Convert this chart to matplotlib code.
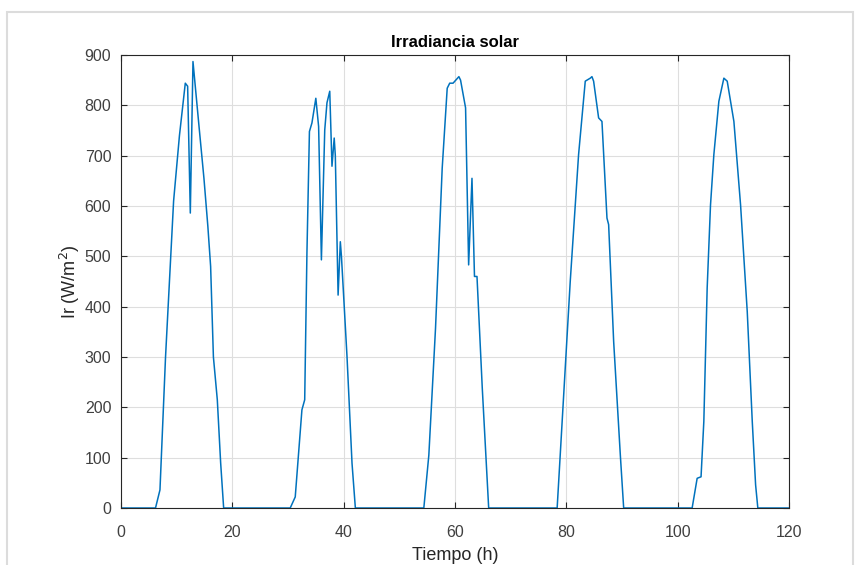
import matplotlib
matplotlib.use("Agg")
import matplotlib.pyplot as plt
from matplotlib.patches import Rectangle

plt.rcParams['font.family'] = ['Liberation Sans', 'DejaVu Sans']

# Solar irradiance over five days (time in hours, irradiance in W/m^2)
day1_t = [0, 6.2, 7.0, 8.0, 9.45, 10.5, 11.55, 11.97, 12.45, 12.93, 14.0, 14.9, 15.6, 16.1, 16.6, 17.3, 17.9, 18.44]
day1_ir = [0, 0, 36, 300, 610, 740, 844, 838, 586, 887, 760, 655, 560, 480, 300, 215, 90, 0]

day2_t = [18.44, 30.4, 31.3, 32.5, 33.0, 33.4, 33.85, 34.3, 35.0, 35.5, 36.0, 36.6, 37.0, 37.5, 37.9, 38.3, 38.5, 39.0, 39.4, 39.6, 40.6, 41.5, 42.1]
day2_ir = [0, 0, 22, 195, 215, 506, 748, 765, 814, 758, 493, 751, 805, 828, 679, 735, 700, 423, 529, 500, 301, 89, 0]

day3_t = [42.1, 54.4, 55.3, 56.5, 57.7, 58.6, 59.05, 59.65, 60.7, 61.0, 61.9, 62.45, 63.05, 63.5, 63.95, 64.9, 66.05]
day3_ir = [0, 0, 105, 357, 675, 834, 844, 844, 857, 850, 795, 483, 655, 460, 460, 238, 0]

day4_t = [66.05, 78.35, 78.9, 80.7, 82.2, 83.4, 84.3, 84.6, 84.9, 85.8, 86.4, 87.3, 87.6, 88.5, 89.7, 90.3]
day4_ir = [0, 0, 105, 450, 702, 848, 854, 857, 848, 775, 768, 576, 563, 331, 105, 0]

day5_t = [90.3, 102.6, 103.5, 104.2, 104.7, 105.3, 105.9, 106.5, 107.4, 108.3, 108.9, 110.1, 111.3, 112.5, 113.4, 114.0, 114.4, 120]
day5_ir = [0, 0, 59, 62, 172, 437, 602, 702, 808, 854, 848, 768, 602, 390, 172, 46, 0, 0]

time_h = day1_t + day2_t[1:] + day3_t[1:] + day4_t[1:] + day5_t[1:]
irr = day1_ir + day2_ir[1:] + day3_ir[1:] + day4_ir[1:] + day5_ir[1:]

x_ticks = [0, 20, 40, 60, 80, 100, 120]
y_ticks = [0, 100, 200, 300, 400, 500, 600, 700, 800, 900]

fig = plt.figure(figsize=(8.56, 5.65), dpi=100)
fig.patch.set_facecolor('white')
fig.patches.append(Rectangle((7 / 856, -0.01), 846 / 856, 1 - 12 / 565 + 0.01,
                             transform=fig.transFigure, fill=False,
                             edgecolor='#dcdcdc', linewidth=1.5))

ax = fig.add_axes([121 / 856, 1 - 508 / 565, (789 - 121) / 856, (508 - 55) / 565])
ax.plot(time_h, irr, color='#0072BD', linewidth=1.1)

ax.set_xlim(0, 120)
ax.set_ylim(0, 900)
ax.set_xticks(x_ticks)
ax.set_yticks(y_ticks)
ax.grid(True, color='#dedede', linewidth=0.8)
ax.set_axisbelow(True)
ax.tick_params(direction='in', length=4, width=0.8, colors='#262626',
               labelsize=11.5, top=True, right=True, labeltop=False, labelright=False)
ax.tick_params(axis='y', pad=7, labelcolor='#404040')
ax.tick_params(axis='x', pad=12, labelcolor='#404040')
for sp in ax.spines.values():
    sp.set_color('#262626')
    sp.set_linewidth(0.8)

ax.set_title('Irradiancia solar', fontsize=12, fontweight='bold', color='black', pad=6)
ax.set_xlabel('Tiempo (h)', fontsize=13, color='#262626', labelpad=5)
ax.set_ylabel('Ir (W/m$^2$)', fontsize=13, color='#262626', labelpad=2)

fig.savefig('out.png', dpi=100)
